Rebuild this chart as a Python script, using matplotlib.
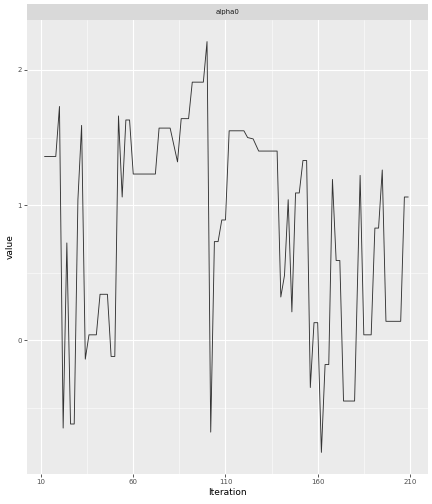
import matplotlib
matplotlib.use("Agg")
import matplotlib.pyplot as plt

iteration = [12, 18, 20, 22, 24, 26, 28, 30, 32, 34, 36, 40, 42, 46, 48, 50, 52, 54, 56, 58, 60, 72,
             74, 80, 84, 86, 90, 92, 98, 100, 102, 104, 106, 108, 110, 112, 120, 122, 125, 128, 138,
             140, 142, 144, 146, 148, 150, 152, 154, 156, 158, 160, 162, 164, 166, 168, 170, 172, 174,
             180, 183, 185, 189, 191, 193, 195, 197, 205, 207, 209]
value = [1.36, 1.36, 1.73, -0.65, 0.72, -0.62, -0.62, 1.04, 1.59, -0.14, 0.04, 0.04, 0.34, 0.34,
         -0.12, -0.12, 1.66, 1.06, 1.63, 1.63, 1.23, 1.23, 1.57, 1.57, 1.32, 1.64, 1.64, 1.91, 1.91,
         2.21, -0.68, 0.73, 0.73, 0.89, 0.89, 1.55, 1.55, 1.50, 1.49, 1.40, 1.40, 0.32, 0.48, 1.04,
         0.21, 1.09, 1.09, 1.33, 1.33, -0.35, 0.13, 0.13, -0.83, -0.18, -0.18, 1.19, 0.59, 0.59,
         -0.45, -0.45, 1.22, 0.04, 0.04, 0.83, 0.83, 1.26, 0.14, 0.14, 1.06, 1.06]
xticks = [10, 60, 110, 160, 210]
yticks = [0, 1, 2]
facet = "alpha0"

W, H = 432, 504
fig = plt.figure(figsize=(W/72, H/72), dpi=72)
L, R, T, B = 27, 428, 20, 474
ax = fig.add_axes([L/W, 1-B/H, (R-L)/W, (B-T)/H])
ax.set_facecolor("#EBEBEB")
ax.plot(iteration, value, color="#333333", lw=0.9)
ax.set_xlim(2.4, 219.8)
ax.set_ylim(-0.99, 2.37)
ax.set_xticks(xticks)
ax.set_yticks(yticks)
ax.set_xticks([35, 85, 135, 185], minor=True)
ax.set_yticks([-0.5, 0.5, 1.5], minor=True)
ax.grid(which="major", color="white", lw=1.1)
ax.grid(which="minor", color="white", lw=0.5)
ax.set_axisbelow(True)
for s in ax.spines.values():
    s.set_visible(False)
ax.tick_params(which="major", length=3, color="#333333", labelsize=7, labelcolor="#4D4D4D", pad=2)
ax.tick_params(which="minor", length=0)
ax.set_xlabel("Iteration", fontsize=9, labelpad=3)
ax.set_ylabel("value", fontsize=9, labelpad=3)

sax = fig.add_axes([L/W, 1-T/H, (R-L)/W, 16/H])
sax.set_facecolor("#D9D9D9")
sax.set_xticks([]); sax.set_yticks([])
for s in sax.spines.values():
    s.set_visible(False)
sax.text(0.5, 0.5, facet, ha="center", va="center", fontsize=7, color="#1A1A1A", transform=sax.transAxes)

fig.savefig("out.png", dpi=72)
